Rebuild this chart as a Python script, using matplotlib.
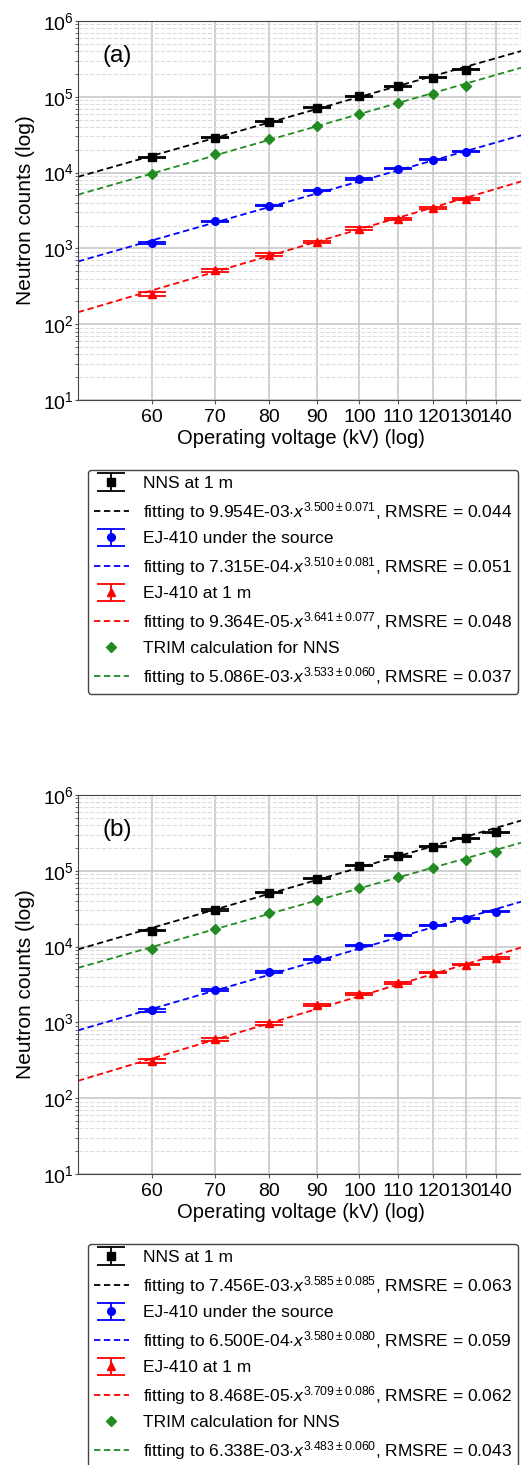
import numpy as np
import matplotlib
matplotlib.use("Agg")
import matplotlib.pyplot as plt
from matplotlib.ticker import FixedLocator, NullLocator, FixedFormatter, LogLocator

plt.rcParams['font.family'] = ['Liberation Sans', 'DejaVu Sans']
plt.rcParams['mathtext.fontset'] = 'custom'
plt.rcParams['mathtext.rm'] = 'Liberation Sans'
plt.rcParams['mathtext.it'] = 'Liberation Sans:italic'
plt.rcParams['mathtext.bf'] = 'Liberation Sans:bold'

# ---------------- data ----------------
voltages_a = [60, 70, 80, 90, 100, 110, 120, 130]
voltages_b = [60, 70, 80, 90, 100, 110, 120, 130, 140]

nns_a = [15900, 28800, 46700, 71300, 101000, 137000, 179000, 226000]
ej_src_a = [1180, 2270, 3670, 5750, 8240, 11200, 14800, 18900]
ej_1m_a = [254, 518, 826, 1215, 1820, 2450, 3450, 4540]
trim_a = [9700, 17400, 27400, 41800, 59700, 82700, 108000, 137000]

nns_err_a = [300, 500, 800, 1200, 1600, 2100, 2700, 3400]
ej_src_err_a = [30, 50, 80, 110, 160, 210, 270, 340]
ej_1m_err_a = [15, 25, 35, 50, 70, 90, 120, 150]

nns_b = [16300, 30400, 51500, 78400, 116000, 156000, 209000, 268000, 322000]
ej_src_b = [1440, 2660, 4590, 6800, 10300, 14000, 19100, 23400, 28900]
ej_1m_b = [310, 600, 970, 1700, 2370, 3320, 4550, 5800, 7130]
trim_b = [9400, 17200, 27400, 41700, 59300, 83200, 109000, 140000, 178000]

nns_err_b = [300, 500, 900, 1300, 1800, 2400, 3100, 3900, 4700]
ej_src_err_b = [60, 90, 120, 160, 220, 290, 370, 450, 550]
ej_1m_err_b = [20, 30, 40, 60, 80, 100, 130, 160, 190]

# fit parameters: amplitude, exponent, exponent error, RMSRE
fit_a_amp = [9.954e-03, 7.315e-04, 9.364e-05, 5.086e-03]
fit_a_exp = [3.500, 3.510, 3.641, 3.533]
fit_a_err = [0.071, 0.081, 0.077, 0.060]
fit_a_rms = [0.044, 0.051, 0.048, 0.037]

fit_b_amp = [7.456e-03, 6.500e-04, 8.468e-05, 6.338e-03]
fit_b_exp = [3.585, 3.580, 3.709, 3.483]
fit_b_err = [0.085, 0.080, 0.086, 0.060]
fit_b_rms = [0.063, 0.059, 0.062, 0.043]

series_names = ["NNS at 1 m", "EJ-410 under the source", "EJ-410 at 1 m",
                "TRIM calculation for NNS"]
series_colors = ["black", "#0000ff", "#ff0000", "#228b22"]
series_markers = ["s", "o", "^", "D"]
x_ticks = [60, 70, 80, 90, 100, 110, 120, 130, 140]

W, H = 521, 1465
fig = plt.figure(figsize=(W / 100, H / 100), dpi=100)


def panel(top_px, bottom_px, legend_top_px, label, xs, data, errs, amps, exps, eerrs, rmss):
    ax = fig.add_axes([78 / W, 1 - bottom_px / H, 446 / W, (bottom_px - top_px) / H])
    ax.set_xscale('log')
    ax.set_yscale('log')
    ax.set_xlim(50, 150)
    ax.set_ylim(10, 1e6)
    xf = np.geomspace(50, 150, 200)
    handles = []
    labels = []
    for i in range(4):
        c = series_colors[i]
        if i < 3:
            h = ax.errorbar(xs, data[i], yerr=errs[i], fmt=series_markers[i], color=c,
                            ms=[6, 5.5, 5.5][i], capsize=10, capthick=1.3, elinewidth=1.3,
                            zorder=3)
        else:
            h, = ax.plot(xs, data[i], series_markers[i], color=c, ms=5, zorder=3,
                         linestyle='none')
        fl, = ax.plot(xf, amps[i] * xf ** exps[i], '--', color=c, lw=1.3,
                      dashes=(3.5, 2), zorder=2)
        handles += [h, fl]
        labels += [series_names[i],
                   "fitting to %.3E$\\cdot x^{%.3f\\pm%.3f}$, RMSRE = %.3f"
                   % (amps[i], exps[i], eerrs[i], rmss[i])]
    ax.xaxis.set_major_locator(FixedLocator(x_ticks))
    ax.xaxis.set_major_formatter(FixedFormatter([str(v) for v in x_ticks]))
    ax.xaxis.set_minor_locator(NullLocator())
    ax.yaxis.set_major_locator(LogLocator(base=10, numticks=10))
    ax.yaxis.set_minor_locator(LogLocator(base=10, subs=np.arange(2, 10), numticks=20))
    ax.grid(True, which='major', color='#c8c8c8', lw=1.2, ls='-')
    ax.grid(True, which='minor', axis='y', color='#dcdcdc', lw=0.8, ls='--')
    ax.set_axisbelow(True)
    ax.tick_params(axis='x', labelsize=14, which='major', length=3, pad=3.5, color='#555555')
    ax.tick_params(axis='y', labelsize=14, which='major', length=2.5, pad=0.5, color='#555555')
    ax.tick_params(axis='y', which='minor', length=2, color='#555555')
    for s in ax.spines.values():
        s.set_color('#444444')
    ax.set_xlabel("Operating voltage (kV) (log)", fontsize=14.5, labelpad=2)
    ax.set_ylabel("Neutron counts (log)", fontsize=15, labelpad=6)
    ax.text(0.056, 0.907, label, transform=ax.transAxes, fontsize=17.5, va='center', ha='left')
    fig.legend(handles, labels, loc='upper left',
               bbox_to_anchor=(88 / W, 1 - legend_top_px / H), fontsize=12.5,
               handlelength=2.0, handletextpad=0.8, labelspacing=0.49, borderpad=0.35,
               borderaxespad=0, edgecolor='#444444', framealpha=1, fancybox=True)
    return ax


panel(21, 400, 470, "(a)", voltages_a,
      [nns_a, ej_src_a, ej_1m_a, trim_a], [nns_err_a, ej_src_err_a, ej_1m_err_a],
      fit_a_amp, fit_a_exp, fit_a_err, fit_a_rms)
panel(795, 1174, 1244, "(b)", voltages_b,
      [nns_b, ej_src_b, ej_1m_b, trim_b], [nns_err_b, ej_src_err_b, ej_1m_err_b],
      fit_b_amp, fit_b_exp, fit_b_err, fit_b_rms)

fig.savefig("out.png", dpi=100)
